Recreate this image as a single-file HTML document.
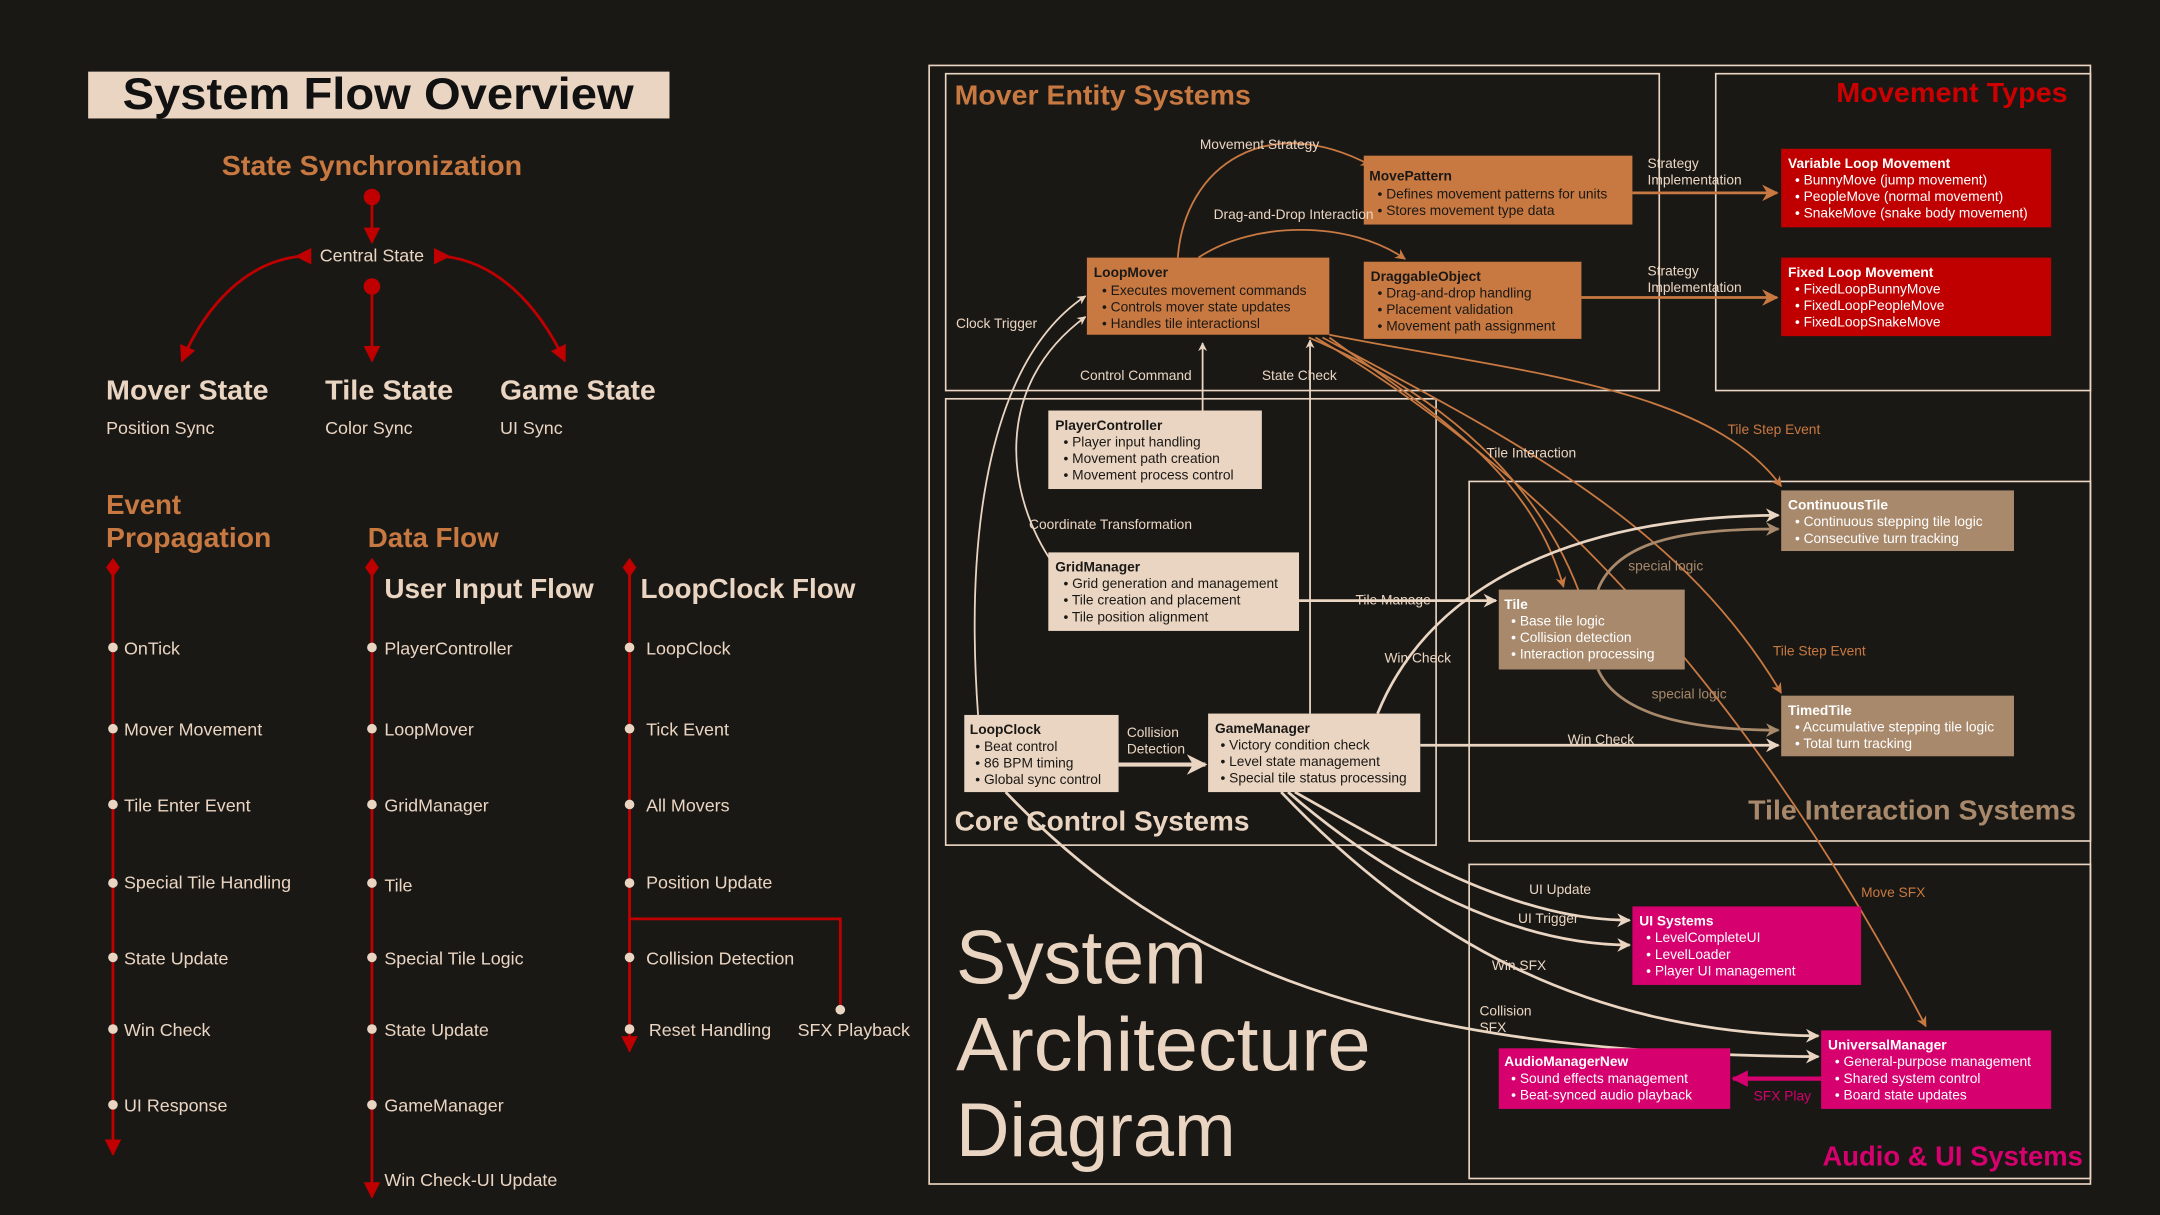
<!DOCTYPE html>
<html><head><meta charset="utf-8"><style>
html,body{margin:0;padding:0;background:#1a1815;}
svg{display:block;}
text{font-family:"Liberation Sans",sans-serif;}
.b{font-weight:bold;}
</style></head><body>
<svg width="2160" height="1215" viewBox="0 0 1568 882" xmlns="http://www.w3.org/2000/svg">
<defs>
<marker id="ar" viewBox="0 0 10 10" refX="9" refY="5" markerWidth="6" markerHeight="6" orient="auto"><path d="M0,0L10,5L0,10z" fill="#c00000"/></marker>
<marker id="ac" viewBox="0 0 10 10" refX="9" refY="5" markerWidth="5" markerHeight="5" orient="auto"><path d="M0,0L10,5L0,10L3,5z" fill="#ead5c2"/></marker>
<marker id="ao" viewBox="0 0 10 10" refX="9" refY="5" markerWidth="6" markerHeight="6" orient="auto"><path d="M0,0L10,5L0,10L3,5z" fill="#c87941"/></marker>
<marker id="at" viewBox="0 0 10 10" refX="9" refY="5" markerWidth="5" markerHeight="5" orient="auto"><path d="M0,0L10,5L0,10L3,5z" fill="#a8896b"/></marker>
<marker id="am" viewBox="0 0 10 10" refX="9" refY="5" markerWidth="4" markerHeight="4" orient="auto"><path d="M0,0L10,5L0,10z" fill="#d6006e"/></marker>
</defs>
<rect width="1568" height="882" fill="#1a1815"/>

<!-- LEFT PANEL -->
<rect x="64" y="52" width="422" height="34" fill="#ead5c2"/>
<text x="89" y="79" class="b" font-size="32" fill="#111" textLength="371" lengthAdjust="spacingAndGlyphs">System Flow Overview</text>
<text x="161" y="127" class="b" font-size="20" fill="#c87941" textLength="218" lengthAdjust="spacingAndGlyphs">State Synchronization</text>
<circle cx="270" cy="143" r="6" fill="#c00000"/>
<line x1="270" y1="143" x2="270" y2="176" stroke="#c00000" stroke-width="2" marker-end="url(#ar)"/>
<text x="270" y="190" text-anchor="middle" font-size="13" fill="#ead5c2">Central State</text>
<path d="M226,180L214,186L226,192z" fill="#c00000"/>
<path d="M315,180L327,186L315,192z" fill="#c00000"/>
<path d="M218,186 C180,190 150,220 132,262" fill="none" stroke="#c00000" stroke-width="2" marker-end="url(#ar)"/>
<path d="M322,186 C360,190 390,220 410,262" fill="none" stroke="#c00000" stroke-width="2" marker-end="url(#ar)"/>
<circle cx="270" cy="208" r="6" fill="#c00000"/>
<line x1="270" y1="208" x2="270" y2="262" stroke="#c00000" stroke-width="2" marker-end="url(#ar)"/>
<g class="b" font-size="20" fill="#ead5c2">
<text x="77" y="290" textLength="118" lengthAdjust="spacingAndGlyphs">Mover State</text><text x="236" y="290" textLength="93" lengthAdjust="spacingAndGlyphs">Tile State</text><text x="363" y="290" textLength="113" lengthAdjust="spacingAndGlyphs">Game State</text>
</g>
<g font-size="13" fill="#ead5c2"><text x="77" y="315">Position Sync</text><text x="236" y="315">Color Sync</text><text x="363" y="315">UI Sync</text></g>
<g class="b" font-size="20" fill="#c87941"><text x="77" y="373">Event</text><text x="77" y="397" textLength="120" lengthAdjust="spacingAndGlyphs">Propagation</text><text x="267" y="397" textLength="95" lengthAdjust="spacingAndGlyphs">Data Flow</text></g>
<g class="b" font-size="20" fill="#ead5c2"><text x="279" y="434" textLength="152" lengthAdjust="spacingAndGlyphs">User Input Flow</text><text x="465" y="434" textLength="156" lengthAdjust="spacingAndGlyphs">LoopClock Flow</text></g>
<g stroke="#c00000" stroke-width="2" fill="none">
<line x1="82" y1="412" x2="82" y2="838" marker-end="url(#ar)"/>
<line x1="270" y1="412" x2="270" y2="869" marker-end="url(#ar)"/>
<line x1="457" y1="412" x2="457" y2="763" marker-end="url(#ar)"/>
<path d="M457,667H610V733"/>
</g>
<g fill="#c00000"><path d="M82,405L87,412L82,419L77,412z"/><path d="M270,405L275,412L270,419L265,412z"/><path d="M457,405L462,412L457,419L452,412z"/></g>
<g fill="#ead5c2">
<circle cx="82" cy="470" r="3.5"/><circle cx="82" cy="529" r="3.5"/><circle cx="82" cy="584" r="3.5"/><circle cx="82" cy="641" r="3.5"/><circle cx="82" cy="695" r="3.5"/><circle cx="82" cy="747" r="3.5"/><circle cx="82" cy="802" r="3.5"/>
<circle cx="270" cy="470" r="3.5"/><circle cx="270" cy="529" r="3.5"/><circle cx="270" cy="584" r="3.5"/><circle cx="270" cy="641" r="3.5"/><circle cx="270" cy="695" r="3.5"/><circle cx="270" cy="747" r="3.5"/><circle cx="270" cy="802" r="3.5"/>
<circle cx="457" cy="470" r="3.5"/><circle cx="457" cy="529" r="3.5"/><circle cx="457" cy="584" r="3.5"/><circle cx="457" cy="641" r="3.5"/><circle cx="457" cy="695" r="3.5"/><circle cx="457" cy="747" r="3.5"/><circle cx="610" cy="733" r="3.5"/>
</g>
<g font-size="13" fill="#ead5c2">
<text x="90" y="475">OnTick</text><text x="90" y="534">Mover Movement</text><text x="90" y="589">Tile Enter Event</text><text x="90" y="645">Special Tile Handling</text><text x="90" y="700">State Update</text><text x="90" y="752">Win Check</text><text x="90" y="807">UI Response</text>
<text x="279" y="475">PlayerController</text><text x="279" y="534">LoopMover</text><text x="279" y="589">GridManager</text><text x="279" y="647">Tile</text><text x="279" y="700">Special Tile Logic</text><text x="279" y="752">State Update</text><text x="279" y="807">GameManager</text><text x="279" y="861">Win Check-UI Update</text>
<text x="469" y="475">LoopClock</text><text x="469" y="534">Tick Event</text><text x="469" y="589">All Movers</text><text x="469" y="645">Position Update</text><text x="469" y="700">Collision Detection</text><text x="471" y="752">Reset Handling</text><text x="579" y="752">SFX Playback</text>
</g>

<!-- RIGHT PANEL FRAMES -->
<g fill="none" stroke="#ead5c2" stroke-width="1.2">
<rect x="674.5" y="47.5" width="843" height="812"/>
<rect x="686.5" y="53.5" width="518" height="230"/>
<rect x="1245.5" y="53.5" width="272" height="230"/>
<rect x="686.5" y="289.5" width="356" height="324"/>
<rect x="1066.5" y="349.5" width="451" height="261"/>
<rect x="1066.5" y="627.5" width="451" height="228"/>
</g>
<text x="693" y="76" class="b" font-size="20" fill="#c87941" textLength="215" lengthAdjust="spacingAndGlyphs">Mover Entity Systems</text>
<text x="1333" y="74" class="b" font-size="20" fill="#cc0000" textLength="168" lengthAdjust="spacingAndGlyphs">Movement Types</text>
<text x="693" y="603" class="b" font-size="20" fill="#ead5c2" textLength="214" lengthAdjust="spacingAndGlyphs">Core Control Systems</text>
<text x="1269" y="595" class="b" font-size="20" fill="#a8896b" textLength="238" lengthAdjust="spacingAndGlyphs">Tile Interaction Systems</text>
<text x="1323" y="846" class="b" font-size="20" fill="#d6006e" textLength="189" lengthAdjust="spacingAndGlyphs">Audio &amp; UI Systems</text>
<g font-size="55" fill="#ead5c2"><text x="694" y="714" textLength="182" lengthAdjust="spacingAndGlyphs">System</text><text x="694" y="777" textLength="301" lengthAdjust="spacingAndGlyphs">Architecture</text><text x="694" y="839" textLength="203" lengthAdjust="spacingAndGlyphs">Diagram</text></g>

<!-- EDGES -->
<g fill="none" stroke-width="1.3">
<path d="M855,187 C860,120 920,80 995,120" stroke="#c87941" marker-end="url(#ao)"/>
<path d="M870,187 C910,160 980,160 1020,188" stroke="#c87941" marker-end="url(#ao)"/>
<path d="M1185,140H1290" stroke="#c87941" stroke-width="2" marker-end="url(#ao)"/>
<path d="M1148,216H1290" stroke="#c87941" stroke-width="2" marker-end="url(#ao)"/>
<path d="M965,245 C1040,300 1110,340 1135,426" stroke="#c87941" marker-end="url(#ao)"/>
<path d="M950,245 C1080,300 1130,380 1150,440" stroke="#c87941"/>
<path d="M965,243 C1100,270 1240,280 1293,353" stroke="#c87941" marker-end="url(#ao)"/>
<path d="M960,245 C1100,320 1220,380 1293,503" stroke="#c87941" marker-end="url(#ao)"/>
<path d="M955,245 C1150,360 1290,540 1398,745" stroke="#c87941" marker-end="url(#ao)"/>
<path d="M710,519 C700,380 720,260 788,215" stroke="#ead5c2" marker-end="url(#ac)"/>
<path d="M765,410 C730,360 720,280 788,230" stroke="#ead5c2" marker-end="url(#ac)"/>
<path d="M873,298V249" stroke="#ead5c2" marker-end="url(#ac)"/>
<path d="M951,518V247" stroke="#ead5c2" marker-end="url(#ac)"/>
<path d="M943,436H1086" stroke="#ead5c2" stroke-width="2" marker-end="url(#ac)"/>
<path d="M1000,518 C1040,420 1150,375 1291,374" stroke="#ead5c2" stroke-width="2" marker-end="url(#ac)"/>
<path d="M1031,541H1291" stroke="#ead5c2" stroke-width="2" marker-end="url(#ac)"/>
<path d="M1160,428 C1175,390 1230,384 1291,384" stroke="#a8896b" stroke-width="2" marker-end="url(#at)"/>
<path d="M1160,486 C1175,520 1230,530 1291,530" stroke="#a8896b" stroke-width="2" marker-end="url(#at)"/>
<path d="M812,555H875" stroke="#ead5c2" stroke-width="3" marker-end="url(#ac)"/>
<path d="M940,575 C1020,620 1100,668 1183,668" stroke="#ead5c2" stroke-width="2" marker-end="url(#ac)"/>
<path d="M935,575 C1010,640 1100,686 1183,686" stroke="#ead5c2" stroke-width="2" marker-end="url(#ac)"/>
<path d="M930,575 C1030,680 1150,750 1320,752" stroke="#ead5c2" stroke-width="2" marker-end="url(#ac)"/>
<path d="M730,575 C850,700 1000,765 1320,767" stroke="#ead5c2" stroke-width="2" marker-end="url(#ac)"/>
<path d="M1322,783H1258" stroke="#d6006e" stroke-width="3" marker-end="url(#am)"/>
</g>

<!-- NODES -->
<g font-size="10">
<rect x="990" y="113" width="195" height="50" fill="#c87941"/>
<text x="994" y="131" class="b" fill="#1a1815">MovePattern</text>
<text x="1000" y="144" fill="#1a1815">• Defines movement patterns for units</text>
<text x="1000" y="156" fill="#1a1815">• Stores movement type data</text>

<rect x="789" y="187" width="176" height="56" fill="#c87941"/>
<text x="794" y="201" class="b" fill="#1a1815">LoopMover</text>
<text x="800" y="214" fill="#1a1815">• Executes movement commands</text>
<text x="800" y="226" fill="#1a1815">• Controls mover state updates</text>
<text x="800" y="238" fill="#1a1815">• Handles tile interactionsl</text>

<rect x="990" y="190" width="158" height="56" fill="#c87941"/>
<text x="995" y="204" class="b" fill="#1a1815">DraggableObject</text>
<text x="1000" y="216" fill="#1a1815">• Drag-and-drop handling</text>
<text x="1000" y="228" fill="#1a1815">• Placement validation</text>
<text x="1000" y="240" fill="#1a1815">• Movement path assignment</text>

<rect x="1293" y="108" width="196" height="57" fill="#c00000"/>
<text x="1298" y="122" class="b" fill="#fff">Variable Loop Movement</text>
<text x="1303" y="134" fill="#fff">• BunnyMove (jump movement)</text>
<text x="1303" y="146" fill="#fff">• PeopleMove (normal movement)</text>
<text x="1303" y="158" fill="#fff">• SnakeMove (snake body movement)</text>

<rect x="1293" y="187" width="196" height="57" fill="#c00000"/>
<text x="1298" y="201" class="b" fill="#fff">Fixed Loop Movement</text>
<text x="1303" y="213" fill="#fff">• FixedLoopBunnyMove</text>
<text x="1303" y="225" fill="#fff">• FixedLoopPeopleMove</text>
<text x="1303" y="237" fill="#fff">• FixedLoopSnakeMove</text>

<rect x="761" y="298" width="155" height="57" fill="#ead5c2"/>
<text x="766" y="312" class="b" fill="#1a1815">PlayerController</text>
<text x="772" y="324" fill="#1a1815">• Player input handling</text>
<text x="772" y="336" fill="#1a1815">• Movement path creation</text>
<text x="772" y="348" fill="#1a1815">• Movement process control</text>

<rect x="761" y="401" width="182" height="57" fill="#ead5c2"/>
<text x="766" y="415" class="b" fill="#1a1815">GridManager</text>
<text x="772" y="427" fill="#1a1815">• Grid generation and management</text>
<text x="772" y="439" fill="#1a1815">• Tile creation and placement</text>
<text x="772" y="451" fill="#1a1815">• Tile position alignment</text>

<rect x="700" y="519" width="112" height="56" fill="#ead5c2"/>
<text x="704" y="533" class="b" fill="#1a1815">LoopClock</text>
<text x="708" y="545" fill="#1a1815">• Beat control</text>
<text x="708" y="557" fill="#1a1815">• 86 BPM timing</text>
<text x="708" y="569" fill="#1a1815">• Global sync control</text>

<rect x="877" y="518" width="154" height="57" fill="#ead5c2"/>
<text x="882" y="532" class="b" fill="#1a1815">GameManager</text>
<text x="886" y="544" fill="#1a1815">• Victory condition check</text>
<text x="886" y="556" fill="#1a1815">• Level state management</text>
<text x="886" y="568" fill="#1a1815">• Special tile status processing</text>

<rect x="1088" y="428" width="135" height="58" fill="#a8896b"/>
<text x="1092" y="442" class="b" fill="#fff">Tile</text>
<text x="1097" y="454" fill="#fff">• Base tile logic</text>
<text x="1097" y="466" fill="#fff">• Collision detection</text>
<text x="1097" y="478" fill="#fff">• Interaction processing</text>

<rect x="1293" y="356" width="169" height="44" fill="#a8896b"/>
<text x="1298" y="370" class="b" fill="#fff">ContinuousTile</text>
<text x="1303" y="382" fill="#fff">• Continuous stepping tile logic</text>
<text x="1303" y="394" fill="#fff">• Consecutive turn tracking</text>

<rect x="1293" y="505" width="169" height="44" fill="#a8896b"/>
<text x="1298" y="519" class="b" fill="#fff">TimedTile</text>
<text x="1303" y="531" fill="#fff">• Accumulative stepping tile logic</text>
<text x="1303" y="543" fill="#fff">• Total turn tracking</text>

<rect x="1185" y="658" width="166" height="57" fill="#d6006e"/>
<text x="1190" y="672" class="b" fill="#fff">UI Systems</text>
<text x="1195" y="684" fill="#fff">• LevelCompleteUI</text>
<text x="1195" y="696" fill="#fff">• LevelLoader</text>
<text x="1195" y="708" fill="#fff">• Player UI management</text>

<rect x="1322" y="748" width="167" height="57" fill="#d6006e"/>
<text x="1327" y="762" class="b" fill="#fff">UniversalManager</text>
<text x="1332" y="774" fill="#fff">• General-purpose management</text>
<text x="1332" y="786" fill="#fff">• Shared system control</text>
<text x="1332" y="798" fill="#fff">• Board state updates</text>

<rect x="1088" y="761" width="168" height="44" fill="#d6006e"/>
<text x="1092" y="774" class="b" fill="#fff">AudioManagerNew</text>
<text x="1097" y="786" fill="#fff">• Sound effects management</text>
<text x="1097" y="798" fill="#fff">• Beat-synced audio playback</text>
</g>

<!-- EDGE LABELS (on top) -->
<g font-size="10" fill="#ead5c2">
<text x="871" y="108">Movement Strategy</text><text x="881" y="159">Drag-and-Drop Interaction</text>
<text x="1196" y="122">Strategy</text><text x="1196" y="134">Implementation</text>
<text x="1196" y="200">Strategy</text><text x="1196" y="212">Implementation</text>
<text x="694" y="238">Clock Trigger</text><text x="784" y="276">Control Command</text><text x="916" y="276">State Check</text>
<text x="1079" y="332">Tile Interaction</text><text x="747" y="384">Coordinate Transformation</text><text x="984" y="439">Tile Manage</text>
<text x="1005" y="481">Win Check</text><text x="1138" y="540">Win Check</text>
<text x="818" y="535">Collision</text><text x="818" y="547">Detection</text>
<text x="1110" y="649">UI Update</text><text x="1102" y="670">UI Trigger</text><text x="1083" y="704">Win SFX</text>
<text x="1074" y="737">Collision</text><text x="1074" y="749">SFX</text>
</g>
<g font-size="10" fill="#c87941"><text x="1254" y="315">Tile Step Event</text><text x="1287" y="476">Tile Step Event</text><text x="1351" y="651">Move SFX</text></g>
<g font-size="10" fill="#a8896b"><text x="1182" y="414">special logic</text><text x="1199" y="507">special logic</text></g>
<text x="1273" y="799" font-size="10" fill="#d6006e">SFX Play</text>
</svg>
</body></html>
